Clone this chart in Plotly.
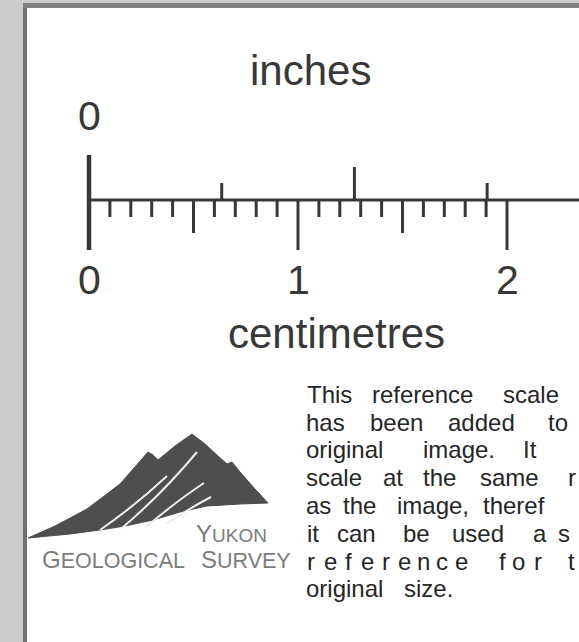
import plotly.graph_objects as go

# ---------------- data ----------------
cm_ticks = [0.0, 0.1, 0.2, 0.3, 0.4, 0.5, 0.6, 0.7, 0.8, 0.9, 1.0,
            1.1, 1.2, 1.3, 1.4, 1.5, 1.6, 1.7, 1.8, 1.9, 2.0]
cm_labels = [0, 1, 2]
inch_ticks = [0.0, 0.25, 0.5, 0.75]
inch_labels = [0]
CM_PER_INCH = 2.54

title_top = "inches"
title_bottom = "centimetres"

# ---------------- layout constants ----------------
W, H = 579, 642
X0_PX, PX_PER_CM = 89, 209
x_range = [-X0_PX / PX_PER_CM, (W - X0_PX) / PX_PER_CM]
BASE_Y = 200
INK = "#383838"
FONT = "Liberation Sans, Arial, sans-serif"

fig = go.Figure()

# baseline of the ruler
fig.add_trace(go.Scatter(x=[0, x_range[1]], y=[BASE_Y, BASE_Y], mode="lines",
                         line=dict(color=INK, width=3), hoverinfo="skip"))

# centimetre ticks (below)
xs, ys = [], []
for v in cm_ticks:
    if v == 0:
        continue
    k = round(v * 10)
    if k % 10 == 0:
        bottom = 250
    elif k % 5 == 0:
        bottom = 233
    else:
        bottom = 217
    xs += [v, v, None]
    ys += [BASE_Y, bottom, None]
fig.add_trace(go.Scatter(x=xs, y=ys, mode="lines", line=dict(color=INK, width=3),
                         hoverinfo="skip"))

# inch ticks (above)
xs, ys = [], []
for v in inch_ticks:
    if v == 0:
        continue
    top = 167 if abs(v - 0.5) < 1e-9 else 183
    xs += [v * CM_PER_INCH, v * CM_PER_INCH, None]
    ys += [BASE_Y, top, None]
fig.add_trace(go.Scatter(x=xs, y=ys, mode="lines", line=dict(color=INK, width=3),
                         hoverinfo="skip"))

# zero tick (both scales)
fig.add_trace(go.Scatter(x=[0, 0], y=[155, 250], mode="lines",
                         line=dict(color=INK, width=4.5), hoverinfo="skip"))

# helper pixel axis trace
fig.add_trace(go.Scatter(x=[], y=[], xaxis="x2", yaxis="y", showlegend=False))

annotations = []
for v in inch_labels:
    annotations.append(dict(x=v * CM_PER_INCH, y=116, xref="x", yref="y", text=str(v),
                            showarrow=False, font=dict(family=FONT, size=41, color=INK)))
for v in cm_labels:
    annotations.append(dict(x=v, y=280, xref="x", yref="y", text=str(v),
                            showarrow=False, font=dict(family=FONT, size=41, color=INK)))
annotations.append(dict(x=310, y=85 - 0.3465 * 42, xref="x2", yref="y", text=title_top,
                        showarrow=False, font=dict(family=FONT, size=42, color=INK)))
annotations.append(dict(x=336, y=348 - 0.3465 * 42, xref="x2", yref="y", text=title_bottom,
                        showarrow=False, font=dict(family=FONT, size=42, color=INK)))

# paragraph (justified, clipped at right edge like the original)
TXT = "#262626"
TS = 24
baselines = [403, 431, 458, 486, 514, 542, 570, 597]
para = [
    [("This", 306), ("reference", 371), ("scale", 502)],
    [("has", 305), ("been", 369), ("added", 447), ("to", 547)],
    [("original", 305), ("image.", 422), ("It", 522)],
    [("scale", 305), ("at", 382), ("the", 422), ("same", 479), ("r", 567)],
    [("as", 305), ("the", 342), ("image,", 396), ("theref", 482)],
    [("it", 306), ("can", 336), ("be", 402), ("used", 451), ("a", 532), ("s", 557)],
    [("r", 306), ("e", 323), ("f", 344), ("e", 360), ("r", 381), ("e", 397), ("n", 416),
     ("c", 435), ("e", 454), ("f", 498), ("o", 511), ("r", 533), ("t", 567)],
    [("original", 305), ("size.", 403)],
]
for i, words in enumerate(para):
    for w, xp in words:
        annotations.append(dict(x=xp, y=baselines[i] - 0.3465 * TS, xref="x2", yref="y",
                                text=w, showarrow=False, xanchor="left", borderpad=0,
                                font=dict(family=FONT, size=TS, color=TXT)))

# logo text
LOGO_TXT = "#7c7c7c"
annotations.append(dict(x=268, y=533, xref="x2", yref="y", xanchor="right", borderpad=0,
                        text='Y<span style="font-size:19px">UKON</span>', showarrow=False,
                        font=dict(family=FONT, size=24, color=LOGO_TXT)))
annotations.append(dict(x=41, y=559, xref="x2", yref="y", xanchor="left", borderpad=0,
                        text='G<span style="font-size:21.5px">EOLOGICAL</span>', showarrow=False,
                        font=dict(family=FONT, size=24, color=LOGO_TXT)))
annotations.append(dict(x=292, y=559, xref="x2", yref="y", xanchor="right", borderpad=0,
                        text='S<span style="font-size:21.5px">URVEY</span>', showarrow=False,
                        font=dict(family=FONT, size=24, color=LOGO_TXT)))

shapes = [
    # frame of the scanned page
    dict(type="rect", xref="x2", yref="y", x0=0, x1=23, y0=0, y1=H,
         fillcolor="#cccccc", line=dict(width=0), layer="below"),
    dict(type="rect", xref="x2", yref="y", x0=23, x1=W, y0=0, y1=4,
         fillcolor="#cbcbcb", line=dict(width=0), layer="below"),
    dict(type="rect", xref="x2", yref="y", x0=23, x1=27, y0=3, y1=H,
         fillcolor="#6f6f6f", line=dict(width=0), layer="below"),
    dict(type="rect", xref="x2", yref="y", x0=23, x1=W, y0=3, y1=8,
         fillcolor="#808080", line=dict(width=0), layer="below"),
    # mountain logo
    dict(type="path", xref="x2", yref="y",
         path="M 28,538 L 55,526 L 87,509 L 120,484 L 148,452 L 153,455 L 158,460 "
              "L 175,446 L 192,434 L 205,444 L 218,456 L 227,464 L 232,462 L 240,472 "
              "L 255,489 L 268,503 L 240,504 L 207,506 L 180,512 L 153,520 L 125,526 "
              "L 100,530 L 70,534 Z",
         fillcolor="#4e4e4e", line=dict(color="#4e4e4e", width=1)),
    dict(type="path", xref="x2", yref="y", path="M 100,530 Q 136,505 167,476",
         line=dict(color="#eeeeee", width=2)),
    dict(type="path", xref="x2", yref="y", path="M 122,528 Q 162,494 197,452",
         line=dict(color="#eeeeee", width=2)),
    dict(type="path", xref="x2", yref="y", path="M 146,527 Q 178,500 204,483",
         line=dict(color="#eeeeee", width=2)),
    dict(type="path", xref="x2", yref="y", path="M 166,524 Q 190,508 211,497",
         line=dict(color="#eeeeee", width=2)),
]

fig.update_layout(
    width=W, height=H, margin=dict(l=0, r=0, t=0, b=0),
    paper_bgcolor="white", plot_bgcolor="white", showlegend=False,
    xaxis=dict(range=x_range, visible=False, fixedrange=True),
    xaxis2=dict(range=[0, W], visible=False, overlaying="x", fixedrange=True),
    yaxis=dict(range=[H, 0], visible=False, fixedrange=True),
    annotations=annotations, shapes=shapes,
)

fig.write_html("out.html", config={"displayModeBar": False},
               post_script="document.body.style.margin='0';document.body.style.overflow='hidden';")
